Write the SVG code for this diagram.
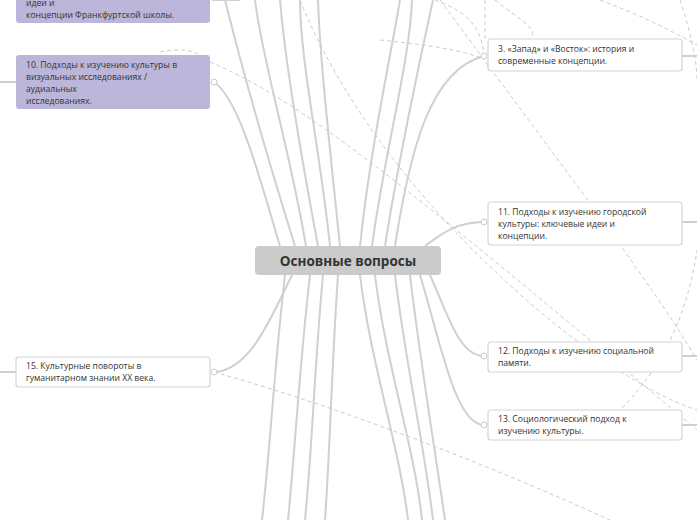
<svg xmlns="http://www.w3.org/2000/svg" width="697" height="520" viewBox="0 0 697 520">
<style>
.t{font-family:"Open Sans","DejaVu Sans",sans-serif;font-size:8.6px;fill:#333}
.c{fill:none;stroke:#d0d0d0;stroke-width:2}
.d{fill:none;stroke:#ccc;stroke-width:1;stroke-dasharray:4,3}
.w{fill:#fff;stroke:#d4d4d4;stroke-width:1.2}
.p{fill:#bcb6da}
.k{fill:#fff;stroke:#ccc;stroke-width:1}
</style>
<rect width="697" height="520" fill="#fff"/>
<g id="connectors">
<path class="c" d="M330 246 C320 150 300 60 300 0"/>
<path class="c" d="M318 246 C300 150 285 60 280 0"/>
<path class="c" d="M306 246 C290 150 262 60 255 0"/>
<path class="c" d="M295 246 C265 150 240 60 225 0"/>
<path class="c" d="M280 246 C260 180 240 100 214 82"/>
<path class="c" d="M340 246 C330 150 320 60 318 0"/>
<path class="c" d="M360 246 C370 150 390 60 400 0"/>
<path class="c" d="M372 246 C385 150 410 60 412 0"/>
<path class="c" d="M385 246 C400 150 420 60 433 0"/>
<path class="c" d="M395 246 C410 150 430 70 484 56"/>
<path class="c" d="M425 246 C440 235 455 222 484 222"/>
<path class="c" d="M430 275 C450 320 460 356 484 356"/>
<path class="c" d="M420 275 C440 340 455 425 484 425"/>
<path class="c" d="M292 275 C270 320 250 370 214 372"/>
<path class="c" d="M285 275 C275 360 270 450 262 520"/>
<path class="c" d="M310 275 C300 360 295 450 288 520"/>
<path class="c" d="M323 275 C315 360 312 450 305 520"/>
<path class="c" d="M338 275 C332 360 330 450 325 520"/>
<path class="c" d="M360 275 C370 360 400 450 408 520"/>
<path class="c" d="M375 275 C385 360 415 450 422 520"/>
<path class="c" d="M395 275 C405 360 425 450 433 520"/>
<path class="c" d="M410 275 C420 360 435 450 445 520"/>
<path class="c" d="M240 0 C230 0 220 0 212 0"/>
<path class="c" d="M682 56 L697 56"/>
<path class="c" d="M682 222 L697 222"/>
<path class="c" d="M682 356 L697 356"/>
<path class="c" d="M682 425 L697 425"/>
<path class="c" d="M16 82 L0 82"/>
<path class="c" d="M16 372 L0 372"/>
<path class="d" d="M210 62 C300 100 400 180 697 430"/>
<path class="d" d="M214 372 C350 410 500 470 610 520"/>
<path class="d" d="M300 0 C380 200 600 380 697 410"/>
<path class="d" d="M440 0 C550 150 650 280 697 360"/>
<path class="d" d="M380 40 C430 45 460 50 482 58"/>
<path class="d" d="M435 0 C460 10 480 20 484 54"/>
<path class="d" d="M485 0 L485 40"/>
<path class="d" d="M495 0 C520 20 540 30 530 38"/>
<path class="d" d="M622 408 C670 360 690 300 697 250"/>
<path class="d" d="M160 52 C180 48 190 50 200 55"/>
<path class="d" d="M600 0 C640 15 670 30 697 45"/>
<path class="d" d="M680 0 C690 30 697 60 697 80"/>
<circle class="k" cx="484" cy="56" r="3"/>
<circle class="k" cx="484" cy="222" r="3"/>
<circle class="k" cx="484" cy="356" r="3"/>
<circle class="k" cx="484" cy="425" r="3"/>
<circle class="k" cx="214" cy="82" r="3"/>
<circle class="k" cx="214" cy="372" r="3"/>
</g>
<g id="center"><rect x="255" y="246" width="186" height="29" rx="4" fill="#cbcbcb"/><text x="348" y="266" text-anchor="middle" font-family="'Open Sans','DejaVu Sans',sans-serif" font-size="13.5" font-weight="bold" fill="#333">Основные вопросы</text></g>
<g id="n9"><rect class="p" x="16" y="-20" width="194" height="43" rx="3"/><text class="t" x="26" y="6">идеи и</text><text class="t" x="26" y="18">концепции Франкфуртской школы.</text></g>
<g id="n10"><rect class="p" x="16" y="55" width="194" height="54" rx="3"/><text class="t" x="26" y="68">10. Подходы к изучению культуры в</text><text class="t" x="26" y="80">визуальных исследованиях /</text><text class="t" x="26" y="92">аудиальных</text><text class="t" x="26" y="104">исследованиях.</text></g>
<g id="n3"><rect class="w" x="488" y="39" width="194" height="32" rx="3"/><text class="t" x="498" y="52">3. «Запад» и «Восток»: история и</text><text class="t" x="498" y="64">современные концепции.</text></g>
<g id="n11"><rect class="w" x="488" y="202" width="194" height="43" rx="3"/><text class="t" x="498" y="215">11. Подходы к изучению городской</text><text class="t" x="498" y="227">культуры: ключевые идеи и</text><text class="t" x="498" y="239">концепции.</text></g>
<g id="n12"><rect class="w" x="488" y="342" width="194" height="30" rx="3"/><text class="t" x="498" y="354">12. Подходы к изучению социальной</text><text class="t" x="498" y="366">памяти.</text></g>
<g id="n13"><rect class="w" x="488" y="410" width="194" height="30" rx="3"/><text class="t" x="498" y="422">13. Социологический подход к</text><text class="t" x="498" y="434">изучению культуры.</text></g>
<g id="n15"><rect class="w" x="16" y="357" width="194" height="30" rx="3"/><text class="t" x="26" y="369">15. Культурные повороты в</text><text class="t" x="26" y="381">гуманитарном знании XX века.</text></g>
</svg>
